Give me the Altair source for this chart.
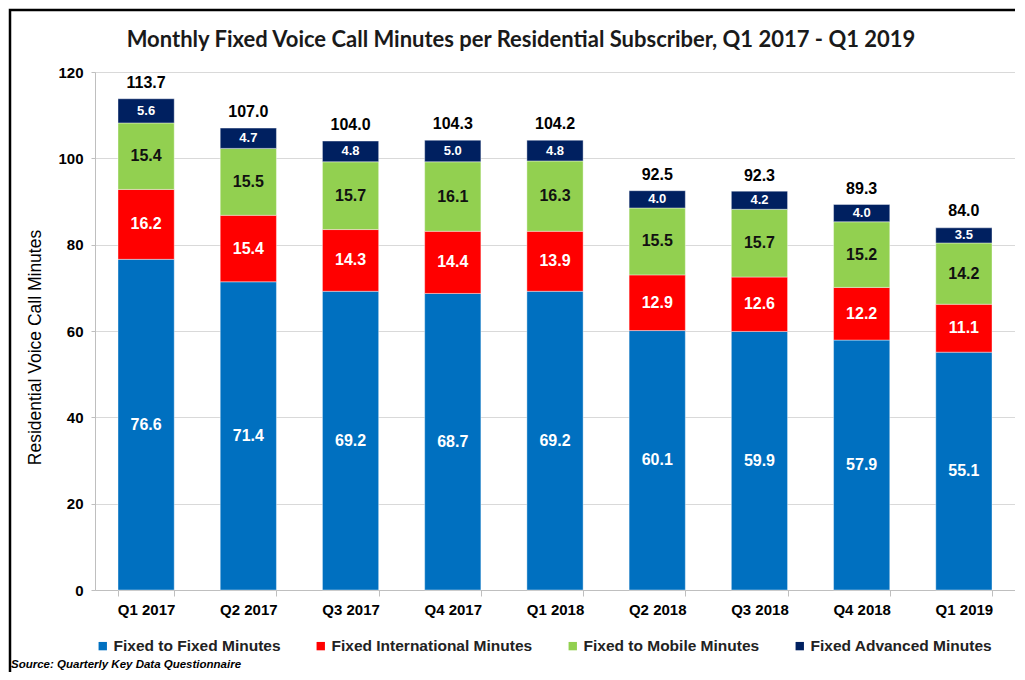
import altair as alt
import pandas as pd

quarters = ["Q1 2017", "Q2 2017", "Q3 2017", "Q4 2017", "Q1 2018",
            "Q2 2018", "Q3 2018", "Q4 2018", "Q1 2019"]
fixed_to_fixed = [76.6, 71.4, 69.2, 68.7, 69.2, 60.1, 59.9, 57.9, 55.1]
fixed_international = [16.2, 15.4, 14.3, 14.4, 13.9, 12.9, 12.6, 12.2, 11.1]
fixed_to_mobile = [15.4, 15.5, 15.7, 16.1, 16.3, 15.5, 15.7, 15.2, 14.2]
fixed_advanced = [5.6, 4.7, 4.8, 5.0, 4.8, 4.0, 4.2, 4.0, 3.5]
totals = [113.7, 107.0, 104.0, 104.3, 104.2, 92.5, 92.3, 89.3, 84.0]

series_names = ["Fixed to Fixed Minutes", "Fixed International Minutes",
                "Fixed to Mobile Minutes", "Fixed Advanced Minutes"]
series_colors = ["#0070C0", "#FF0000", "#92D050", "#002060"]
label_colors = ["#FFFFFF", "#FFFFFF", "#111111", "#FFFFFF"]

title_text = "Monthly Fixed Voice Call Minutes per Residential Subscriber, Q1 2017 - Q1 2019"
source_text = "Source:  Quarterly Key Data Questionnaire"

rows = []
for s_idx, (name, vals) in enumerate(zip(series_names,
        [fixed_to_fixed, fixed_international, fixed_to_mobile, fixed_advanced])):
    for q, v in zip(quarters, vals):
        rows.append({"quarter": q, "series": name, "value": v, "order": s_idx,
                     "label": f"{v:.1f}", "lcolor": label_colors[s_idx],
                     "small": name == "Fixed Advanced Minutes"})
df = pd.DataFrame(rows)
tot_df = pd.DataFrame({"quarter": quarters, "total": totals,
                       "label": [f"{t:.1f}" for t in totals]})
src_df = pd.DataFrame({"t": [source_text]})
title_df = pd.DataFrame({"t": [title_text]})
frame_df = pd.DataFrame({"k": [0]})

W, H = 920, 518
AX = "Liberation Sans"

x_enc = alt.X("quarter:N", sort=quarters, title=None,
              scale=alt.Scale(paddingInner=0.45, paddingOuter=0.225),
              axis=alt.Axis(labelAngle=0, labelFont=AX, labelFontWeight="bold",
                            labelFontSize=15, labelColor="#000000", labelPadding=6,
                            domainColor="#BFBFBF", tickColor="#BFBFBF", tickSize=6,
                            tickBand="extent", grid=False))
y_scale = alt.Scale(domain=[0, 120])

bars = alt.Chart(df).mark_bar(stroke="#FFFFFF", strokeWidth=0.4).encode(
    x=x_enc,
    y=alt.Y("value:Q", stack="zero", scale=y_scale,
            title="Residential Voice Call Minutes",
            axis=alt.Axis(values=[0, 20, 40, 60, 80, 100, 120], labelFont=AX,
                          labelFontWeight="bold", labelFontSize=15,
                          labelColor="#000000", labelPadding=8,
                          domainColor="#BFBFBF", tickColor="#BFBFBF", tickSize=4,
                          gridColor="#D9D9D9", titleFont=AX, titleFontSize=17.5,
                          titleFontWeight="normal", titleColor="#000000",
                          titleAngle=-90, titleX=-60, titleY=275,
                          titleAlign="center", titleBaseline="middle")),
    color=alt.Color("series:N",
                    scale=alt.Scale(domain=series_names, range=series_colors),
                    legend=alt.Legend(title=None, orient="none", direction="horizontal",
                                      legendX=0, legendY=566, symbolType="square",
                                      symbolSize=70, symbolStrokeWidth=0,
                                      labelFont=AX, labelFontWeight="bold",
                                      labelFontSize=15.5, labelColor="#222222",
                                      labelLimit=0, columnPadding=32,
                                      symbolOffset=0, labelOffset=3, columns=4)),
    order=alt.Order("order:Q"),
)

seg_base = alt.Chart(df).transform_stack(
    stack="value", groupby=["quarter"], as_=["y0", "y1"],
    sort=[alt.SortField("order", order="ascending")]
).transform_calculate(mid="(datum.y0 + datum.y1) / 2")

seg_labels = seg_base.transform_filter("!datum.small").mark_text(
    font=AX, fontWeight="bold", fontSize=16, baseline="middle").encode(
    x=alt.X("quarter:N", sort=quarters),
    y=alt.Y("mid:Q", scale=y_scale),
    text="label:N",
    color=alt.Color("lcolor:N", scale=None),
)
small_labels = seg_base.transform_filter("datum.small").mark_text(
    font=AX, fontWeight="bold", fontSize=13, baseline="middle").encode(
    x=alt.X("quarter:N", sort=quarters),
    y=alt.Y("mid:Q", scale=y_scale),
    text="label:N",
    color=alt.Color("lcolor:N", scale=None),
)

tot_labels = alt.Chart(tot_df).mark_text(
    font=AX, fontWeight="bold", fontSize=16, color="#000000",
    baseline="bottom", dy=-8).encode(
    x=alt.X("quarter:N", sort=quarters),
    y=alt.Y("total:Q", scale=y_scale),
    text="label:N",
)

title = alt.Chart(title_df).mark_text(
    font="Lato", fontWeight="bold", fontSize=22, color="#1A1A1A",
    align="center", baseline="middle").encode(
    x=alt.value(426), y=alt.value(-32), text="t:N")

source = alt.Chart(src_df).mark_text(
    font=AX, fontWeight="bold", fontStyle="italic", fontSize=11.5,
    color="#000000", align="left", baseline="alphabetic").encode(
    x=alt.value(-84), y=alt.value(596), text="t:N")

frame = alt.Chart(frame_df).mark_rect(
    fill=None, stroke="#000000", strokeWidth=2.5).encode(
    x=alt.value(-85), x2=alt.value(940), y=alt.value(-62), y2=alt.value(640))

chart = alt.layer(bars, seg_labels, small_labels, tot_labels, title, source, frame).properties(
    width=W, height=H,
    padding={"left": 87, "top": 64, "right": 0, "bottom": 82},
    autosize=alt.AutoSizeParams(type="none"),
).configure_view(stroke="#D9D9D9").configure(background="#FFFFFF")

chart.save("out.html", embed_options={"renderer": "svg", "actions": False})
